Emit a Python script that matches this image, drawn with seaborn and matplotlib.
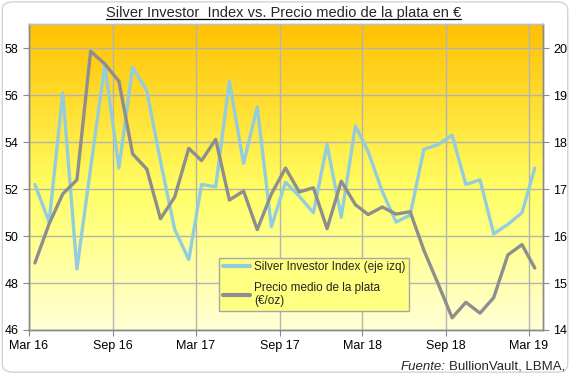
import matplotlib
matplotlib.use("Agg")
import matplotlib.pyplot as plt
import matplotlib.dates as mdates
from matplotlib.colors import LinearSegmentedColormap
from matplotlib.patches import FancyBboxPatch
from matplotlib.lines import Line2D
import numpy as np
import pandas as pd
import seaborn as sns

# monthly readings, Mar 2016 .. Mar 2019
months = pd.date_range("2016-03-01", "2019-03-01", freq="MS") + pd.Timedelta(days=13)

silver_index = [
    52.2, 50.6, 56.1, 48.6, 52.9, 57.3, 52.9, 57.2, 56.2, 53.2,
    50.3, 49.0, 52.2, 52.1, 56.6, 53.1, 55.5, 50.4, 52.3, 51.7,
    51.0, 53.9, 50.8, 54.7, 53.6, 51.9, 50.6, 50.9, 53.7, 53.9,
    54.3, 52.2, 52.4, 50.1, 50.5, 51.0, 52.9,
]
silver_price_eur = [
    15.43, 16.26, 16.90, 17.20, 19.94, 19.67, 19.30, 17.75, 17.43, 16.37,
    16.83, 17.87, 17.61, 18.06, 16.77, 16.96, 16.14, 16.90, 17.45, 16.94,
    17.03, 16.16, 17.17, 16.67, 16.46, 16.62, 16.47, 16.52, 15.70, 14.99,
    14.26, 14.59, 14.36, 14.69, 15.60, 15.82, 15.32,
]

label_index = "Silver Investor Index (eje izq)"
label_price = "Precio medio de la plata\n(€/oz)"
title = "Silver Investor  Index vs. Precio medio de la plata en €"

df = pd.DataFrame({"month": months, "index": silver_index, "price": silver_price_eur})

sns.set_style("white")
plt.rcParams["font.family"] = ["Liberation Sans", "DejaVu Sans"]

blue = "#93CDDD"
grey = "#8E8E8E"
grid_col = "#B4B4B4"
spine_col = "#8A8A8A"

fig = plt.figure(figsize=(5.7, 3.74), dpi=100)
ax = fig.add_axes([29 / 570, 44 / 374, 514 / 570, 306 / 374])
ax2 = ax.twinx()

# gradient plot background
cmap = LinearSegmentedColormap.from_list(
    "bg", [(0.0, "#FFFFD6"), (0.45, "#FFFF66"), (1.0, "#FFC000")]
)
grad = np.linspace(0, 1, 256).reshape(-1, 1)
ax.imshow(grad, cmap=cmap, origin="lower", aspect="auto",
          extent=[0, 1, 0, 1], transform=ax.transAxes, zorder=0)

sns.lineplot(data=df, x="month", y="index", ax=ax, color=blue, linewidth=2.4,
             label=label_index, legend=False, zorder=3)
sns.lineplot(data=df, x="month", y="price", ax=ax2, color=grey, linewidth=2.4,
             label=label_price, legend=False, zorder=3)

ax.set_xlim(pd.Timestamp("2016-03-01"), pd.Timestamp("2019-04-01"))
ax.set_ylim(46, 59.04)
ax2.set_ylim(14, 20.52)
ax.set_yticks([46, 48, 50, 52, 54, 56, 58])
ax2.set_yticks([14, 15, 16, 17, 18, 19, 20])

ax.xaxis.set_major_locator(mdates.MonthLocator(bymonth=[3, 9], bymonthday=1))
ax.xaxis.set_major_formatter(mdates.DateFormatter("%b %y"))

ax.grid(True, color=grid_col, linewidth=1)
ax.set_axisbelow(False)
for line in ax.get_xgridlines() + ax.get_ygridlines():
    line.set_zorder(1)
ax2.grid(False)

for a in (ax, ax2):
    a.set_xlabel("")
    a.set_ylabel("")
    for s in a.spines.values():
        s.set_color(spine_col)
        s.set_linewidth(1)
    a.spines["top"].set_color("#C0C0C0")
ax.tick_params(axis="both", labelsize=9, colors="black", length=4,
               color=spine_col, direction="out")
ax.tick_params(axis="y", left=True, right=False)
ax.tick_params(axis="x", bottom=True, pad=3)
ax2.tick_params(axis="y", labelsize=9, colors="black", length=4,
                color=spine_col, direction="out", right=True)

handles = [Line2D([], [], color=blue, linewidth=3),
           Line2D([], [], color=grey, linewidth=3)]
leg = ax2.legend(handles, [label_index, label_price], loc="lower left",
                 bbox_to_anchor=(219 / 570, 63 / 374), bbox_transform=fig.transFigure,
                 borderaxespad=0, fontsize=8.5, frameon=True, fancybox=False,
                 framealpha=1, facecolor="#FFFF80", edgecolor="#A8A8A8",
                 handlelength=2.3, labelspacing=0.7, borderpad=0.3,
                 handletextpad=0.4)
leg.get_frame().set_linewidth(1)
leg.set_zorder(10)

# title with underline
t = fig.text(0.497, 0.966, title, ha="center", va="center", fontsize=10.5)
fig.canvas.draw()
bb = t.get_window_extent().transformed(fig.transFigure.inverted())
fig.add_artist(Line2D([bb.x0, bb.x1], [bb.y0 + 0.002, bb.y0 + 0.002],
                      transform=fig.transFigure, color="black", linewidth=0.9))

# source note
src = fig.text(565 / 570, 0.02, "BullionVault, LBMA,", ha="right", va="center",
               fontsize=9.5)
fig.canvas.draw()
sb = src.get_window_extent().transformed(fig.transFigure.inverted())
fig.text(sb.x0 - 0.006, 0.02, "Fuente:", ha="right", va="center",
         fontsize=9.5, style="italic")

# outer rounded border
fig.add_artist(FancyBboxPatch((0.004, 0.005), 0.992, 0.99, transform=fig.transFigure,
                              boxstyle="round,pad=0,rounding_size=0.02",
                              fill=False, edgecolor="#D4D4D4", linewidth=1))

fig.savefig("out.png", dpi=100)
